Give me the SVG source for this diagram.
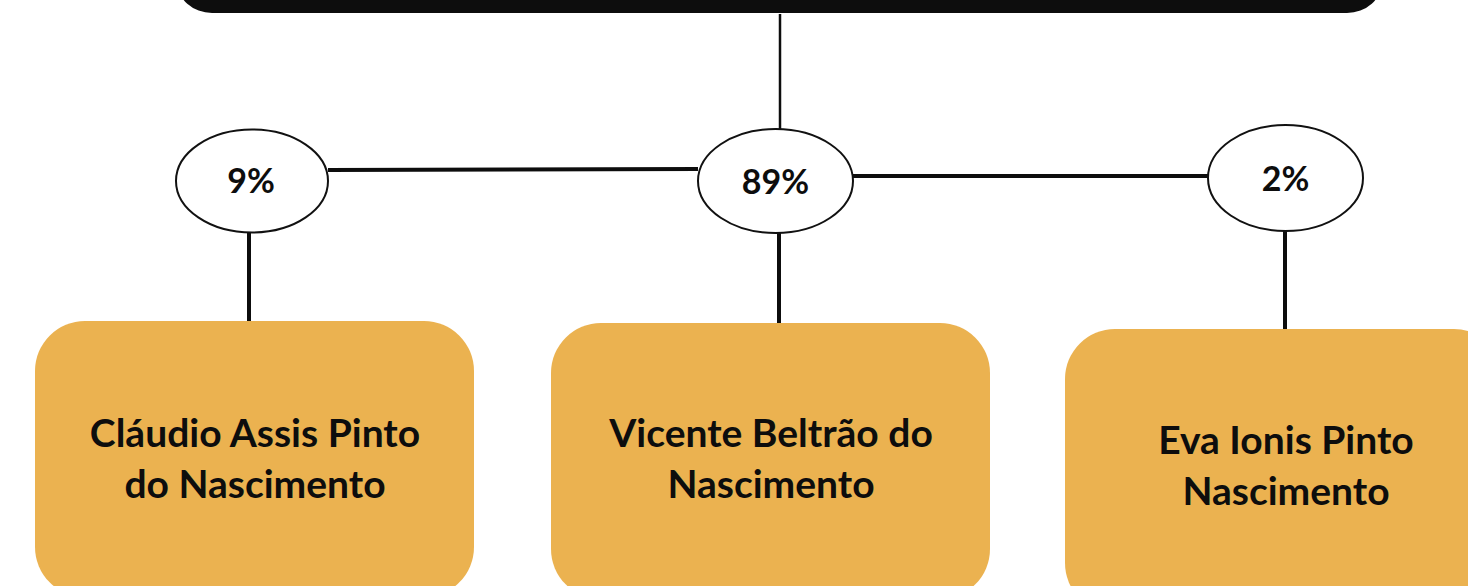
<svg xmlns="http://www.w3.org/2000/svg" width="1468" height="586" viewBox="0 0 1468 586">
<style>
.box{fill:#EBB250;}
.oval{fill:#fff;stroke:#111;stroke-width:2;}
.lbl{font-family:Lato,"Open Sans",sans-serif;font-weight:bold;fill:#0d0d0d;text-anchor:middle;}
.pct{font-size:34px;}
.name{font-size:39px;}
.con{stroke:#0d0d0d;stroke-width:4;fill:none;}
</style>
<rect width="1468" height="586" fill="#fff"/>
<g id="top"><rect x="177" y="-50" width="1205" height="63" rx="35" fill="#0d0d0d"/></g>
<g id="connectors">
<line class="con" x1="780" y1="14" x2="780" y2="129" style="stroke-width:2.5"/>
<line class="con" x1="328" y1="170" x2="698" y2="169"/>
<line class="con" x1="853" y1="176" x2="1208" y2="176"/>
<line class="con" x1="249" y1="232" x2="249" y2="321"/>
<line class="con" x1="779" y1="233" x2="779" y2="323"/>
<line class="con" x1="1285" y1="231" x2="1285" y2="329"/>
</g>
<g id="pct9"><ellipse class="oval" cx="252" cy="181" rx="76" ry="51.5"/><text class="lbl pct" x="251" y="193">9%</text></g>
<g id="pct89"><ellipse class="oval" cx="775.5" cy="181" rx="77.5" ry="52"/><text class="lbl pct" x="775.5" y="194">89%</text></g>
<g id="pct2"><ellipse class="oval" cx="1285.5" cy="178" rx="77.5" ry="53"/><text class="lbl pct" x="1285.5" y="191">2%</text></g>
<g id="claudio"><rect class="box" x="35" y="321" width="439" height="276" rx="50"/><text class="lbl name" x="255" y="447">Cláudio Assis Pinto</text><text class="lbl name" x="255" y="498">do Nascimento</text></g>
<g id="vicente"><rect class="box" x="551" y="323" width="439" height="276" rx="50"/><text class="lbl name" x="771" y="447">Vicente Beltrão do</text><text class="lbl name" x="771" y="498">Nascimento</text></g>
<g id="eva"><rect class="box" x="1065" y="329" width="439" height="284" rx="50"/><text class="lbl name" x="1286" y="454">Eva Ionis Pinto</text><text class="lbl name" x="1286" y="505">Nascimento</text></g>
</svg>
